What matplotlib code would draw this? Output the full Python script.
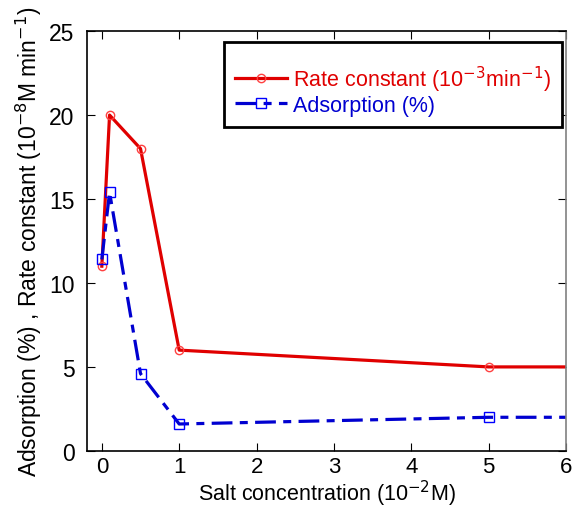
import matplotlib
matplotlib.use('Agg')
import matplotlib.pyplot as plt

plt.rcParams['font.family'] = ['Liberation Sans', 'DejaVu Sans']

salt = [0, 0.1, 0.5, 1, 5, 6]
rate = [11, 20, 18, 6, 5, 5]
adsorption = [11.4, 15.4, 4.6, 1.6, 2.0, 2.0]

fig = plt.figure(figsize=(5.77, 5.10), dpi=100)
ax = fig.add_axes([0.151, 0.114, 0.83, 0.823])

ax.plot(salt, rate, color='#e00000', lw=2.3, marker='o', ms=6, mfc='none',
        mec='#ff4040', mew=1, markevery=[0, 1, 2, 3, 4],
        label='Rate constant (10$^{-3}$min$^{-1}$)')
ax.plot(salt, adsorption, color='#0000d0', lw=2.3, dashes=(6.5, 2.3, 2.5, 2.3),
        marker='s', ms=7, mfc='none', mec='#0000ff', mew=1,
        markevery=[0, 1, 2, 3, 4], label='Adsorption (%)')

ax.set_xlim(-0.19, 6)
ax.set_ylim(0, 25)
ax.set_xticks(range(7))
ax.set_yticks(range(0, 26, 5))
ax.tick_params(direction='in', top=True, right=True, labelsize=16.5, length=6)
ax.tick_params(axis='y', pad=9)
ax.tick_params(axis='x', labelsize=16, pad=4)
ax.set_xlabel('Salt concentration (10$^{-2}$M)', fontsize=15.5, labelpad=0)
ax.set_ylabel('Adsorption (%) , Rate constant (10$^{-8}$M min$^{-1}$)', fontsize=16.5, labelpad=4)
for s in ax.spines.values():
    s.set_linewidth(1.2)
ax.spines['right'].set_color('#808080')

leg = ax.legend(loc='upper right', bbox_to_anchor=(0.992, 0.975), fontsize=15.5,
                title=' ', title_fontsize=7, framealpha=1,
                frameon=True, fancybox=False, handlelength=2.4, borderpad=0.5,
                labelspacing=0.05, handletextpad=0.3, borderaxespad=0)
leg.get_frame().set_edgecolor('black')
leg.get_frame().set_linewidth(2)
for t, c in zip(leg.get_texts(), ['#e00000', '#0000d0']):
    t.set_color(c)

fig.savefig('out.png', dpi=100)
